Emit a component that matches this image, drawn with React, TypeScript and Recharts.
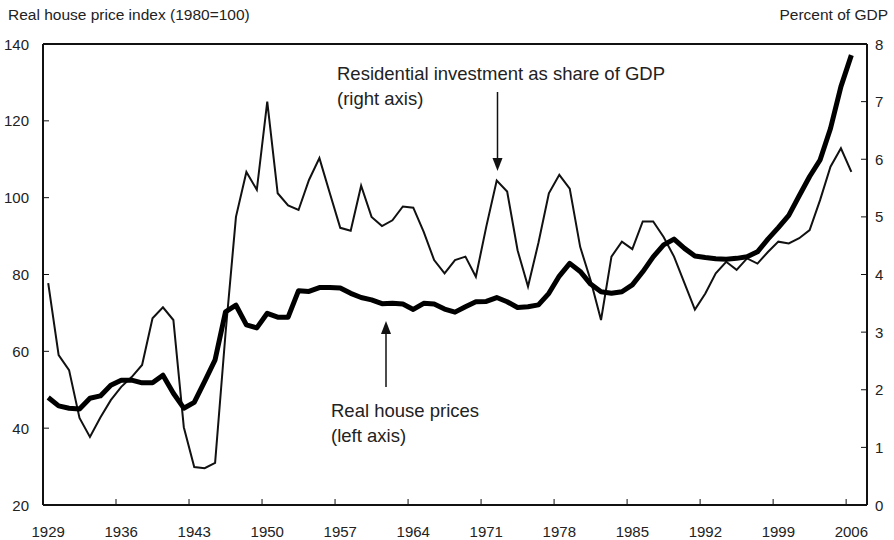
import { Line, LineChart, ReferenceLine, XAxis, YAxis } from 'recharts';

// US: real house prices (left) vs residential investment share of GDP (right), 1929–2006
const years: number[] = [
  1929, 1930, 1931, 1932, 1933, 1934, 1935, 1936, 1937, 1938, 1939, 1940, 1941, 1942, 1943, 1944,
  1945, 1946, 1947, 1948, 1949, 1950, 1951, 1952, 1953, 1954, 1955, 1956, 1957, 1958, 1959, 1960,
  1961, 1962, 1963, 1964, 1965, 1966, 1967, 1968, 1969, 1970, 1971, 1972, 1973, 1974, 1975, 1976,
  1977, 1978, 1979, 1980, 1981, 1982, 1983, 1984, 1985, 1986, 1987, 1988, 1989, 1990, 1991, 1992,
  1993, 1994, 1995, 1996, 1997, 1998, 1999, 2000, 2001, 2002, 2003, 2004, 2005, 2006,
];

const housePrices: number[] = [
  48.0, 45.8, 45.2, 45.0, 47.8, 48.4, 51.2, 52.5, 52.5, 51.8, 51.8, 53.8, 49.1, 45.2, 46.7, 52.2,
  57.8, 70.3, 72.0, 66.9, 66.1, 69.9, 68.9, 68.9, 75.8, 75.6, 76.6, 76.6, 76.5, 75.1, 74.0, 73.4,
  72.4, 72.5, 72.3, 70.9, 72.5, 72.3, 71.0, 70.2, 71.6, 72.9, 73.0, 74.0, 72.9, 71.4, 71.6, 72.1,
  75.1, 79.6, 82.9, 80.8, 77.5, 75.5, 75.1, 75.5, 77.3, 80.7, 84.6, 87.7, 89.2, 86.8, 84.8, 84.4,
  84.1, 84.0, 84.2, 84.6, 85.9, 89.2, 92.2, 95.4, 100.5, 105.5, 109.8, 118.0, 128.9, 137.1,
];

const investmentShare: number[] = [
  3.85, 2.6, 2.34, 1.51, 1.18, 1.52, 1.82, 2.05, 2.22, 2.43, 3.24, 3.43, 3.21, 1.35, 0.66, 0.64,
  0.73, 2.98, 5.0, 5.78, 5.47, 7.0, 5.41, 5.2, 5.12, 5.64, 6.02, 5.41, 4.81, 4.76, 5.54, 5.0,
  4.84, 4.94, 5.18, 5.16, 4.74, 4.25, 4.02, 4.25, 4.31, 3.96, 4.83, 5.63, 5.44, 4.42, 3.79, 4.55,
  5.41, 5.73, 5.49, 4.48, 3.9, 3.21, 4.31, 4.57, 4.44, 4.92, 4.92, 4.65, 4.31, 3.85, 3.39, 3.67,
  4.02, 4.22, 4.08, 4.28, 4.19, 4.39, 4.57, 4.54, 4.63, 4.77, 5.29, 5.87, 6.19, 5.78,
];

const xTickYears: number[] = [1929, 1936, 1943, 1950, 1957, 1964, 1971, 1978, 1985, 1992, 1999, 2006];
const leftTicks: number[] = [20, 40, 60, 80, 100, 120, 140];
const rightTicks: number[] = [0, 1, 2, 3, 4, 5, 6, 7, 8];

// each annual value is plotted in the middle of its year
const data = years.map((y, i) => ({
  x: y + 0.5,
  price: housePrices[i],
  invest: investmentShare[i],
}));

const W = 894;
const H = 540;
const LEFT_W = 43;
const RIGHT_W = 27;
const TOP = 44;
const X_H = 35;
const X_MIN = 1929;
const X_MAX = 2008;
const HALF_YEAR = (W - LEFT_W - RIGHT_W) / (X_MAX - X_MIN) / 2;
const FONT = '"Liberation Sans", Arial, sans-serif';
const INK = '#111';

function LeftTick(props: any) {
  const { x, y, payload } = props;
  return (
    <g>
      <line x1={x + 14} x2={x + 20} y1={y} y2={y} stroke={INK} strokeWidth={1} />
      <text x={x} y={y} textAnchor="end" dominantBaseline="central" fontSize={15} fill="#222" fontFamily={FONT}>
        {payload.value}
      </text>
    </g>
  );
}

function RightTick(props: any) {
  const { x, y, payload } = props;
  return (
    <g>
      <line x1={x - 8} x2={x - 14} y1={y} y2={y} stroke={INK} strokeWidth={1} />
      <text x={x} y={y} textAnchor="start" dominantBaseline="central" fontSize={15} fill="#222" fontFamily={FONT}>
        {payload.value}
      </text>
    </g>
  );
}

function BottomTick(props: any) {
  const { x, y, payload } = props;
  const axisY = y - 26;
  const tx = x - HALF_YEAR;
  return (
    <g>
      <line x1={tx} x2={tx} y1={axisY} y2={axisY - 6} stroke={INK} strokeWidth={1} />
      <text x={x} y={y} textAnchor="middle" dominantBaseline="central" fontSize={15} fill="#222" fontFamily={FONT}>
        {Math.floor(payload.value)}
      </text>
    </g>
  );
}

export default function App() {
  return (
    <div style={{ position: 'absolute', left: 0, top: 0, width: W, height: H, background: '#fff' }}>
      <LineChart width={W} height={H} data={data} margin={{ top: TOP, right: 0, bottom: 0, left: 0 }}>
        <XAxis
          dataKey="x"
          type="number"
          domain={[X_MIN, X_MAX]}
          ticks={xTickYears.map((y) => y + 0.5)}
          height={X_H}
          tickSize={0}
          tickMargin={26}
          tickLine={false}
          axisLine={{ stroke: INK, strokeWidth: 2 }}
          tick={<BottomTick />}
          interval={0}
        />
        <YAxis
          yAxisId="left"
          domain={[20, 140]}
          ticks={leftTicks}
          width={LEFT_W}
          tickSize={0}
          tickMargin={14}
          tickLine={false}
          axisLine={{ stroke: INK, strokeWidth: 2 }}
          tick={<LeftTick />}
          interval={0}
        />
        <YAxis
          yAxisId="right"
          orientation="right"
          domain={[0, 8]}
          ticks={rightTicks}
          width={RIGHT_W}
          tickSize={0}
          tickMargin={8}
          tickLine={false}
          axisLine={{ stroke: INK, strokeWidth: 2 }}
          tick={<RightTick />}
          interval={0}
        />
        <ReferenceLine yAxisId="left" y={140} stroke={INK} strokeWidth={2} />
        <Line
          yAxisId="right"
          type="linear"
          dataKey="invest"
          stroke={INK}
          strokeWidth={2}
          dot={false}
          isAnimationActive={false}
        />
        <Line
          yAxisId="left"
          type="linear"
          dataKey="price"
          stroke="#000"
          strokeWidth={5}
          strokeLinejoin="round"
          dot={false}
          isAnimationActive={false}
        />
      </LineChart>
      <svg
        width={W}
        height={H}
        style={{ position: 'absolute', left: 0, top: 0, pointerEvents: 'none' }}
        fontFamily={FONT}
      >
        <text x={8} y={20} fontSize={15.5} fill="#222">
          Real house price index (1980=100)
        </text>
        <text x={888} y={20} fontSize={15.5} fill="#222" textAnchor="end">
          Percent of GDP
        </text>
        <text x={337} y={80} fontSize={18.5} fill="#222">
          Residential investment as share of GDP
        </text>
        <text x={337} y={105} fontSize={18.5} fill="#222">
          (right axis)
        </text>
        <line x1={497.5} x2={497.5} y1={92} y2={160} stroke={INK} strokeWidth={1.5} />
        <polygon points="492.5,158 502.5,158 497.5,171" fill={INK} />
        <text x={331} y={417} fontSize={18.5} fill="#222">
          Real house prices
        </text>
        <text x={331} y={442} fontSize={18.5} fill="#222">
          (left axis)
        </text>
        <line x1={386} x2={386} y1={387} y2={332} stroke={INK} strokeWidth={1.5} />
        <polygon points="381,334 391,334 386,321" fill={INK} />
      </svg>
    </div>
  );
}
